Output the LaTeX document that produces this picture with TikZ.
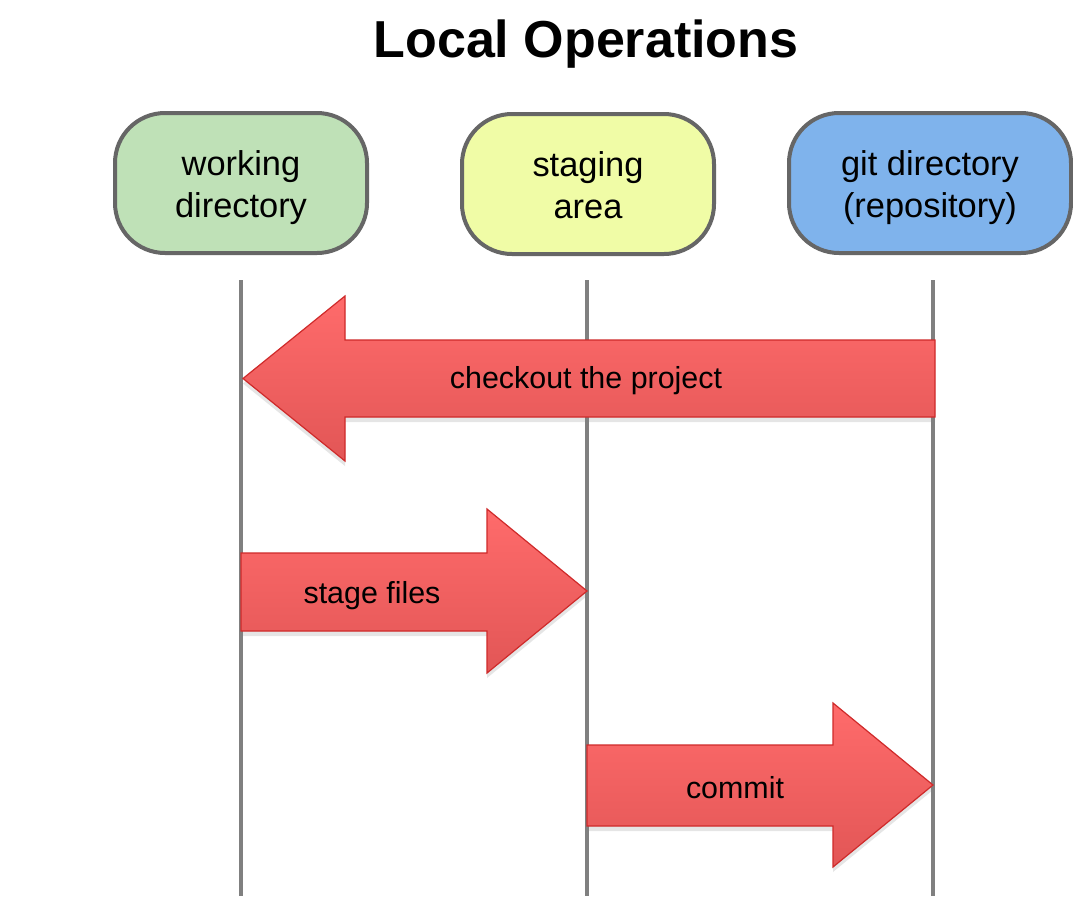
\documentclass[tikz,border=0pt]{standalone}
\usepackage{fontspec}
\setmainfont{Liberation Sans}
\usepackage{tikz}
\usetikzlibrary{shadows}

\definecolor{vertclair}{HTML}{BFE1B7}
\definecolor{jauneclair}{HTML}{F0FCA6}
\definecolor{bleuclair}{HTML}{7FB3EC}
\definecolor{rougehaut}{HTML}{FF6B6B}
\definecolor{rougebas}{HTML}{E25656}
\definecolor{rougebord}{HTML}{CF2A2A}

% premiere ligne un peu plus haute, pour descendre le texte dans les zones
\newcommand{\haut}{\rule{0pt}{19.7pt}}

\tikzstyle{zone} = [rectangle, rounded corners=25pt, draw=black!60, line width=2pt, minimum height=70pt, minimum width=126pt, align=center, font=\fontsize{17.2}{21}\selectfont]
\tikzstyle{ligne} = [draw=black!50, line width=2pt]
\tikzstyle{fleche} = [draw=rougebord, line width=0.6pt, top color=rougehaut, bottom color=rougebas, drop shadow={opacity=0.2, shadow xshift=0pt, shadow yshift=-2.5pt}]
\tikzstyle{legende} = [font=\fontsize{15.2}{18}\selectfont]

\begin{document}
\begin{tikzpicture}[x=0.5pt, y=-0.5pt]
    \useasboundingbox [fill=white] (0,0) rectangle (1073,896);

    \node [anchor=base, font=\fontsize{26}{30}\selectfont\bfseries] (titre) at (586,57) {Local Operations};

    % les trois zones
    \node [zone, fill=vertclair] (travail) at (241,183) {\haut working\\directory\strut};
    \node [zone, fill=jauneclair] (index) at (588,184) {\haut staging\\area\strut};
    \node [zone, fill=bleuclair, minimum width=141pt] (depot) at (930,183) {\haut git directory\\(repository)\strut};

    \foreach \x in {241,587,933}
    {
        \draw [ligne] (\x,280) -- (\x,896);
    }

    % les operations
    \draw [fleche] (935,340) -- (345,340) -- (345,296) -- (243,378.5) -- (345,461) -- (345,417) -- (935,417) -- cycle;
    \node [legende] (checkout) at (586,381) {checkout the project};

    \draw [fleche] (241,553) -- (487,553) -- (487,509) -- (587,591) -- (487,673) -- (487,631) -- (241,631) -- cycle;
    \node [legende] (stage) at (372,596) {stage files};

    \draw [fleche] (587,745) -- (833,745) -- (833,703) -- (933,785) -- (833,867) -- (833,826) -- (587,826) -- cycle;
    \node [legende] (commit) at (735,788) {commit};
\end{tikzpicture}
\end{document}
